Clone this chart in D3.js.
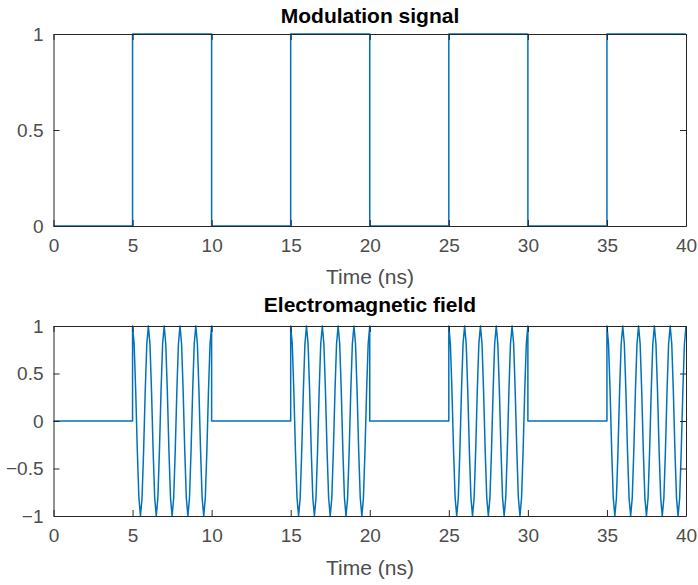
<!DOCTYPE html>
<html><head><meta charset="utf-8">
<script src="https://cdn.jsdelivr.net/npm/d3@7"></script>
<style>
html,body{margin:0;padding:0;background:#fff;}
svg{display:block;}
text{font-family:"Liberation Sans",Arial,Helvetica,sans-serif;}
</style></head>
<body>
<svg id="chart" width="698" height="585"></svg>
<script>
// ---- data ----
const timeTicks = [0, 5, 10, 15, 20, 25, 30, 35, 40];
const modYTicks = [0, 0.5, 1];
const fieldYTicks = [-1, -0.5, 0, 0.5, 1];

const modTime  = [0, 5, 5, 10, 10, 15, 15, 20, 20, 25, 25, 30, 30, 35, 35, 40];
const modValue = [0, 0, 1, 1,  0,  0,  1,  1,  0,  0,  1,  1,  0,  0,  1,  1];

// field: off segments (value 0) and bursts sampled every 0.1 ns
const offStarts = [0, 10, 20, 30];
const burstStarts = [5, 15, 25, 35];
const sampleStep = 0.1;
const burstValues = [
  1, 0.81, 0.31, -0.31, -0.81, -1, -0.81, -0.31, 0.31, 0.81,
  1, 0.81, 0.31, -0.31, -0.81, -1, -0.81, -0.31, 0.31, 0.81,
  1, 0.81, 0.31, -0.31, -0.81, -1, -0.81, -0.31, 0.31, 0.81,
  1, 0.81, 0.31, -0.31, -0.81, -1, -0.81, -0.31, 0.31, 0.81,
  1, 0.81, 0.31, -0.31, -0.81, -1, -0.81, -0.31, 0.31, 0.81,
  1
];

// ---- build field points ----
const fieldPts = [];
offStarts.forEach((s, i) => {
  fieldPts.push([s, 0]);
  const b = burstStarts[i];
  fieldPts.push([b, 0]);
  burstValues.forEach((v, k) => fieldPts.push([b + k * sampleStep, v]));
  if (i < offStarts.length - 1) fieldPts.push([b + 5, 0]);
});

const svg = d3.select("#chart");
const lineColor = "#0072BD";
const axisColor = "#262626";
const tickTextColor = "#4d4d4d";

function panel(top, bottom, yDomain, yTicks, pts, title, titleY, xlabY) {
  const x = d3.scaleLinear().domain([0, 40]).range([53.5, 686]);
  const y = d3.scaleLinear().domain(yDomain).range([bottom, top]);
  const g = svg.append("g");
  const tl = 6;

  g.append("path")
    .datum(pts)
    .attr("fill", "none")
    .attr("stroke", lineColor)
    .attr("stroke-width", 1.5)
    .attr("stroke-linejoin", "round")
    .attr("d", d3.line().x(d => x(d[0])).y(d => y(d[1])));

  const bAx = d3.axisBottom(x).tickValues(timeTicks).tickSizeInner(-tl).tickSizeOuter(0).tickPadding(13).tickFormat(d3.format("d"));
  const tAx = d3.axisTop(x).tickValues(timeTicks).tickSizeInner(-tl).tickSizeOuter(0).tickFormat("");
  const lAx = d3.axisLeft(y).tickValues(yTicks).tickSizeInner(-tl).tickSizeOuter(0).tickPadding(10).tickFormat(d3.format(""));
  const rAx = d3.axisRight(y).tickValues(yTicks).tickSizeInner(-tl).tickSizeOuter(0).tickFormat("");

  const gb = g.append("g").attr("transform", `translate(0,${bottom})`).call(bAx);
  const gt = g.append("g").attr("transform", `translate(0,${top})`).call(tAx);
  const gl = g.append("g").attr("transform", `translate(53.5,0)`).call(lAx);
  const gr = g.append("g").attr("transform", `translate(686,0)`).call(rAx);
  [gb, gt, gl, gr].forEach(a => {
    a.select(".domain").attr("stroke", axisColor).attr("stroke-width", 1);
    a.selectAll(".tick line").attr("stroke", axisColor).attr("stroke-width", 1);
    a.selectAll(".tick text").attr("fill", tickTextColor).style("font-size", "19px")
      .attr("font-family", "'Liberation Sans',Arial,sans-serif");
  });

  g.append("text").attr("x", 370).attr("y", titleY).attr("text-anchor", "middle")
    .style("font-size", "21px").style("font-weight", "bold").attr("fill", "#000").text(title);
  g.append("text").attr("x", 370).attr("y", xlabY).attr("text-anchor", "middle")
    .style("font-size", "21px").attr("fill", tickTextColor).text("Time (ns)");
}

const modPts = modTime.map((t, i) => [t, modValue[i]]);
panel(34, 226, [0, 1], modYTicks, modPts, "Modulation signal", 23, 284);
panel(326, 516, [-1, 1], fieldYTicks, fieldPts, "Electromagnetic field", 312, 575);
</script>
</body></html>
